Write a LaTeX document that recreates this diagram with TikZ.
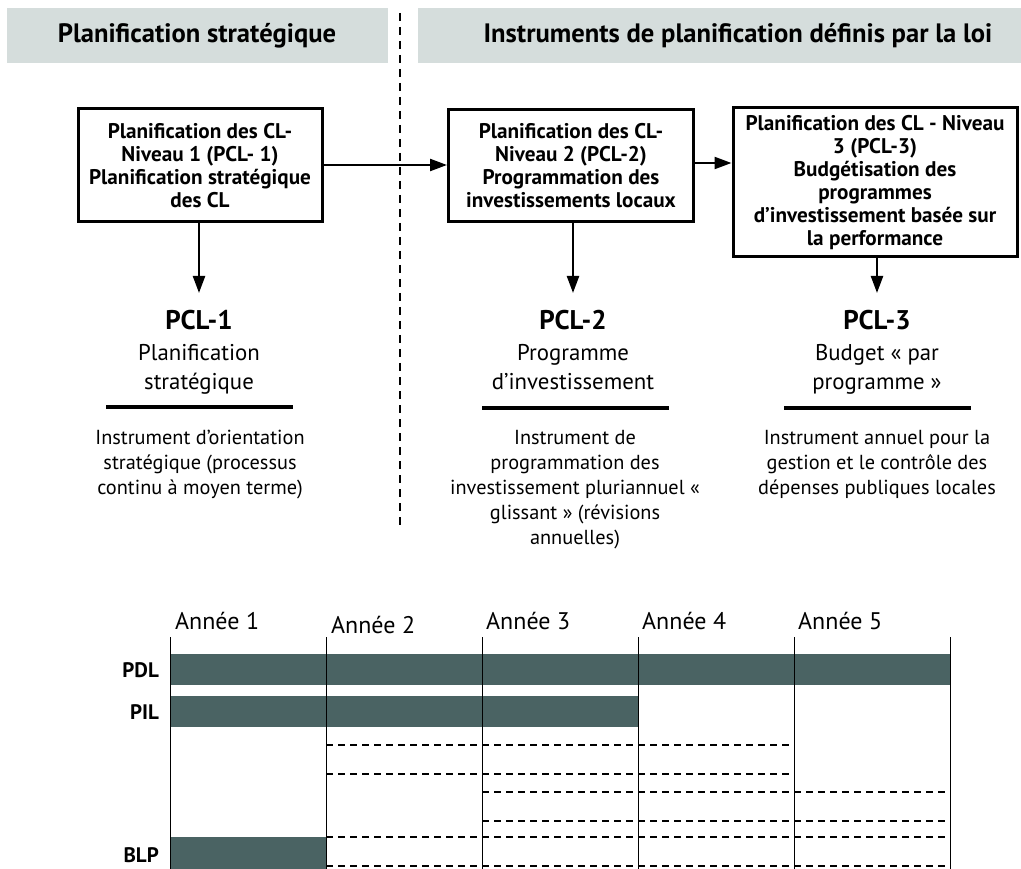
\documentclass[tikz,border=0pt]{standalone}
\usepackage{fontspec}
\setmainfont{PT Sans}
\usetikzlibrary{arrows.meta}
\definecolor{headgray}{HTML}{D5DDDC}
\definecolor{barslate}{HTML}{4A6363}
\tikzset{
  headtext/.style={font=\bfseries\fontsize{26.6}{30}\selectfont, anchor=center},
  levelbox/.style={draw, line width=3pt, align=center, inner sep=2pt,
    font=\bfseries\fontsize{21.2}{23}\selectfont},
  flow/.style={line width=2.3pt, -{Triangle[length=17pt,width=12pt]}},
  pcllabel/.style={font=\bfseries\fontsize{27}{30}\selectfont, inner sep=0pt},
  pclsub/.style={font=\fontsize{22.8}{29}\selectfont, align=center, inner sep=0pt},
  pcldesc/.style={font=\fontsize{20.3}{25}\selectfont, align=center, inner sep=0pt},
  rulebar/.style={line width=3.3pt},
  yearlbl/.style={font=\fontsize{24}{26}\selectfont, anchor=west, inner sep=0pt},
  rowlbl/.style={font=\bfseries\fontsize{21}{24}\selectfont, anchor=east, inner sep=0pt},
  gridline/.style={line width=1pt},
  rolling/.style={line width=2.3pt, dash pattern=on 7pt off 5pt},
}
\begin{document}
\begin{tikzpicture}[x=1pt,y=-1pt]
\useasboundingbox[fill=white] (0,0) rectangle (1021,869);

% header bands
\fill[headgray] (7,8) rectangle (388,63);
\fill[headgray] (418,8) rectangle (1021,63);
\node[headtext] (hleft) at (197,36) {Planification stratégique};
\node[headtext] (hright) at (738,36) {Instruments de planification définis par la loi};

% separator between the two parts
\draw[line width=2pt, dash pattern=on 8pt off 6pt] (400,13) -- (400,530);

% planning levels
\node[levelbox, minimum width=244pt, minimum height=113pt] (b1) at (200,165.5)
  {Planification des CL-\\Niveau 1 (PCL- 1)\\Planification stratégique\\des CL};
\node[levelbox, minimum width=245pt, minimum height=112pt] (b2) at (571,165.5)
  {Planification des CL-\\Niveau 2 (PCL-2)\\Programmation des\\investissements locaux};
\node[levelbox, minimum width=284pt, minimum height=149pt] (b3) at (875,182.5)
  {Planification des CL - Niveau\\3 (PCL-3)\\Budgétisation des\\programmes\\d’investissement basée sur\\la performance};

\draw[flow] (b1.east |- 0,165) -- (b2.west |- 0,165);
\draw[flow] (b2.east |- 0,163) -- (b3.west |- 0,163);

% instruments
\node[pcllabel] (p1) at (199,320) {PCL-1};
\node[pcllabel] (p2) at (573,320) {PCL-2};
\node[pcllabel] (p3) at (877,320) {PCL-3};

\draw[flow] (b1.south -| p1) -- ([yshift=17pt]p1.north);
\draw[flow] (b2.south -| p2) -- ([yshift=17pt]p2.north);
\draw[flow] (b3.south -| p3) -- ([yshift=17pt]p3.north);

% last baseline of each text block
\node[pclsub, anchor=base] (s1) at (199,389) {Planification\\stratégique};
\node[pclsub, anchor=base] (s2) at (573,389) {Programme\\d’investissement};
\node[pclsub, anchor=base] (s3) at (877,389) {Budget « par\\programme »};

\draw[rulebar] (106,407) -- (293,407);
\draw[rulebar] (482,408) -- (669,408);
\draw[rulebar] (784,408) -- (971,408);

\node[pcldesc, anchor=base] (d1) at (200,494)
  {Instrument d’orientation\\stratégique (processus\\continu à moyen terme)};
\node[pcldesc, anchor=base] (d2) at (575,544)
  {Instrument de\\programmation des\\investissement pluriannuel «\\glissant » (révisions\\annuelles)};
\node[pcldesc, anchor=base] (d3) at (877,494)
  {Instrument annuel pour la\\gestion et le contrôle des\\dépenses publiques locales};

% five-year timeline
\fill[barslate] (170,654) rectangle (950,685);
\fill[barslate] (170,696) rectangle (638,727);
\fill[barslate] (170,837) rectangle (326,869);

\foreach \x in {170,326,482,638,794,950}
  \draw[gridline] (\x,637) -- (\x,869);

\node[yearlbl] (y1) at (175,621) {Année 1};
\node[yearlbl] (y2) at (331,625) {Année 2};
\node[yearlbl] (y3) at (486,621) {Année 3};
\node[yearlbl] (y4) at (642,621) {Année 4};
\node[yearlbl] (y5) at (798,621) {Année 5};

\node[rowlbl] (rpdl) at (159,670) {PDL};
\node[rowlbl] (rpil) at (159,712) {PIL};
\node[rowlbl] (rblp) at (159,855) {BLP};

\draw[rolling] (326,745) -- (794,745);
\draw[rolling] (326,774) -- (794,774);
\draw[rolling] (482,792) -- (950,792);
\draw[rolling] (482,821) -- (950,821);
\draw[rolling] (326,837) -- (950,837);
\draw[rolling] (326,866) -- (950,866);
\end{tikzpicture}
\end{document}
